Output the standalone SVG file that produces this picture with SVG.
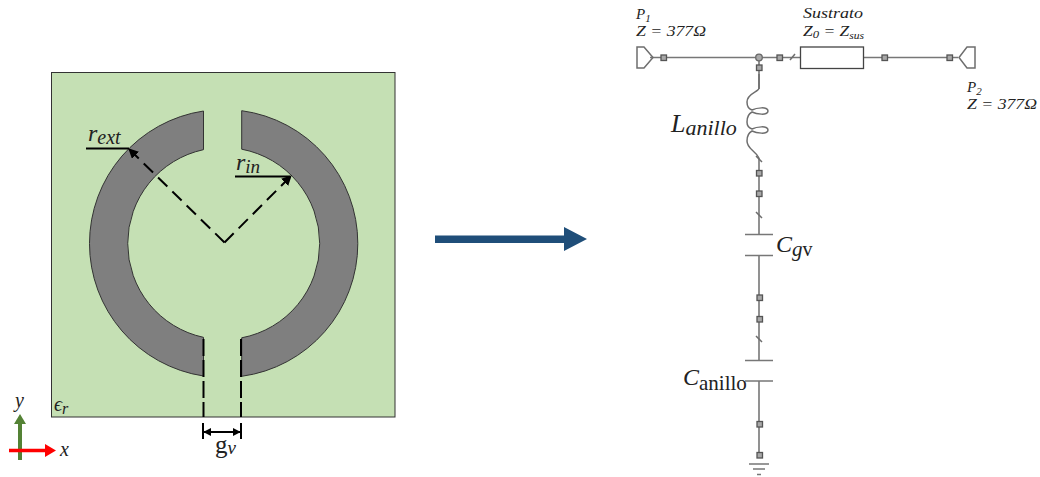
<svg xmlns="http://www.w3.org/2000/svg" width="1040" height="477" viewBox="0 0 1040 477">
<defs>
<marker id="ah" viewBox="0 0 10 10" refX="9" refY="5" markerWidth="10" markerHeight="10" markerUnits="userSpaceOnUse" orient="auto"><path d="M0,0L10,5L0,10Z" fill="#000"/></marker>
<marker id="ds" viewBox="0 0 10 10" refX="9" refY="5" markerWidth="8" markerHeight="8" markerUnits="userSpaceOnUse" orient="auto-start-reverse"><path d="M0,0L10,5L0,10Z" fill="#000"/></marker>
</defs>
<style>
.m{font-family:"Liberation Serif",serif;font-style:italic;fill:#222}
.u{font-family:"Liberation Serif",serif;fill:#222}
.w{fill:none;stroke:#777;stroke-width:1.6}
.c{fill:none;stroke:#6e6e6e;stroke-width:1.5}
.p{fill:#a8a8a8;stroke:#555;stroke-width:1.3}
.k{fill:none;stroke:#000;stroke-width:1.8}
.d{fill:none;stroke:#000;stroke-width:2;stroke-dasharray:13 7}
.v{fill:none;stroke:#000;stroke-width:2;stroke-dasharray:17 4}
</style>
<g id="substrate"><rect x="51.500" y="72.500" width="343.500" height="344.500" fill="#c5e0b4" stroke="#333" stroke-width="1"/></g>
<g id="ring" fill="#7f7f7f" stroke="#333" stroke-width="1">
<path d="M203.500,111A134,134 0 0 0 203.500,376V337.350A96,96 0 0 1 203.500,149.650Z"/>
<path d="M241.700,110.700A134,134 0 0 1 241.700,376.300V337.800A96,96 0 0 0 241.700,149.200Z"/>
</g>
<g id="dimensions">
<path class="k" d="M86,148.500H129"/>
<path class="k" d="M235,176.500H290"/>
<path class="d" d="M224.500,242.500L129,149" marker-end="url(#ah)"/>
<path class="d" d="M224.500,242.500L291,176" marker-end="url(#ah)"/>
<path class="v" d="M203.500,339V417M241,339V417"/>
<path d="M203,423V439M241,423V439" stroke="#000" stroke-width="2"/>
<path d="M204,432H240" stroke="#000" stroke-width="2" marker-start="url(#ds)" marker-end="url(#ds)"/>
<text class="m" x="88" y="141" font-size="24">r<tspan font-size="20" dy="3">ext</tspan></text>
<text class="m" x="236" y="170" font-size="24">r<tspan font-size="19" dy="3">in</tspan></text>
<text class="m" x="54" y="411" font-size="20">ϵ<tspan font-size="16" dy="3">r</tspan></text>
<text class="u" x="215" y="453" font-size="25">g<tspan class="m" font-size="19" dy="1">v</tspan></text>
</g>
<g id="axes">
<path d="M20,460V423" stroke="#548235" stroke-width="4" fill="none"/><path d="M14,424L20,414L26,424Z" fill="#548235"/>
<path d="M9,450.500H46" stroke="#f00" stroke-width="3.500" fill="none"/><path d="M45,444L56,450.500L45,457Z" fill="#f00"/>
<text class="m" x="15" y="407" font-size="20">y</text>
<text class="m" x="60" y="456" font-size="20">x</text>
</g>
<path id="big-arrow" d="M435,235.500H564V227L587,239L564,251V243H435Z" fill="#1f4e79"/>
<g id="connectors">
<path class="w" d="M650,57.500H755.500M762.500,57.500H801M863,57.500H958"/>
<path class="w" d="M759,61V89M759,158V234M759,256V360M759,381V457"/>
<path class="c" d="M790,60L795,54M756,156L762,162M756,212L762,218M756,336L762,342"/>
</g>
<g id="port1"><path class="c" d="M637,47H644L653,57.500L644,68H637Z"/><rect class="p" x="661" y="55" width="5.500" height="5.500"/><text class="m" x="636" y="19" font-size="15">P<tspan font-size="11" dy="3">1</tspan></text><text class="m" x="636" y="36" font-size="15" textLength="70" lengthAdjust="spacingAndGlyphs">Z = 377Ω</text></g>
<g id="junction"><circle cx="759" cy="57.500" r="3.300" fill="#aaa" stroke="#666" stroke-width="1.300"/><rect class="p" x="777" y="55" width="5.500" height="5.500"/><rect class="p" x="756.500" y="65" width="5.500" height="5.500"/></g>
<g id="substrate-line"><rect x="800.500" y="47" width="63" height="21.500" fill="#fff" stroke="#444" stroke-width="1.300"/><rect class="p" x="882" y="55" width="5.500" height="5.500"/><text class="m" x="803" y="18" font-size="15" textLength="60" lengthAdjust="spacingAndGlyphs">Sustrato</text><text class="m" x="803" y="36" font-size="15" textLength="61" lengthAdjust="spacingAndGlyphs">Z<tspan font-size="11" dy="2">0</tspan><tspan dy="-2"> = Z</tspan><tspan font-size="10" dy="3">sus</tspan></text></g>
<g id="port2"><rect class="p" x="947" y="55" width="5.500" height="5.500"/><path class="c" d="M975,47H967L959,57.500L967,68H975Z"/><text class="m" x="967" y="92" font-size="15">P<tspan font-size="11" dy="3">2</tspan></text><text class="m" x="967" y="109" font-size="15" textLength="70" lengthAdjust="spacingAndGlyphs">Z = 377Ω</text></g>
<g id="inductor">
<path class="c" d="M759,74V88C759,92 747,93 747,102C747,107 749,109 752,110C756,108 768,106 768,111C768,116 756,114 752,112C748,114 747,118 747,122C747,126 749,128 752,129C756,127 768,125 768,130C768,135 756,133 752,131C748,133 747,137 747,141C747,149 755,150 759,158"/>
<text class="m" x="671" y="132" font-size="26">L<tspan font-size="22" dy="3">anillo</tspan></text>
<rect class="p" x="756.500" y="170.500" width="5.500" height="5.500"/><rect class="p" x="756.500" y="191" width="5.500" height="5.500"/>
</g>
<g id="cgv"><path class="w" d="M745,234.500H773M745,255.500H773"/><text class="m" x="776" y="252" font-size="24">C<tspan font-size="21" dy="4">g</tspan><tspan class="u" font-style="normal" font-size="20">v</tspan></text><rect class="p" x="757" y="295" width="5.500" height="5.500"/><rect class="p" x="757" y="316.500" width="5.500" height="5.500"/></g>
<g id="canillo"><path class="w" d="M745,360.500H773M745,381H773"/><text class="m" x="683" y="385" font-size="24">C<tspan class="u" font-style="normal" font-size="21" dy="5">anillo</tspan></text><rect class="p" x="757" y="421.500" width="5.500" height="5.500"/></g>
<g id="ground"><rect class="p" x="757" y="452.500" width="5.500" height="5.500"/><path class="w" d="M749,464H769M753,469H765M757,474.500H761"/></g>
</svg>
